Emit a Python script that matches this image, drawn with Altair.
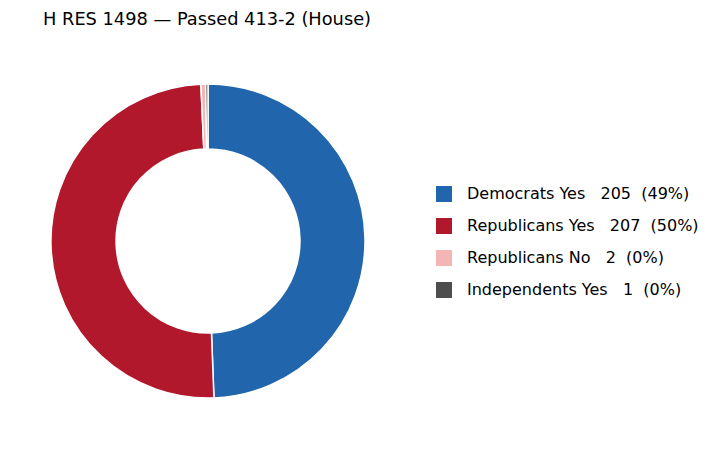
import pandas as pd
import altair as alt

# vote breakdown
groups = ["Democrats Yes", "Republicans Yes", "Republicans No", "Independents Yes"]
counts = [205, 207, 2, 1]
colors = ["#2166ac", "#b2182b", "#f4b6b4", "#4d4d4d"]

total = sum(counts)
labels = []
for g, n in zip(groups, counts):
    pct = round(100 * n / total)
    labels.append(f"{g}\u00a0\u00a0\u00a0{n}\u00a0\u00a0({pct}%)")

df = pd.DataFrame({
    "group": groups,
    "count": counts,
    "label": labels,
    "idx": list(range(len(groups)))})

# donut
donut = alt.Chart(df).mark_arc(
    innerRadius=92,
    outerRadius=157,
    stroke="white",
    strokeWidth=1.5).encode(
    theta=alt.Theta("count:Q", stack=True),
    order=alt.Order("idx:Q"),
    x=alt.value(200),
    y=alt.value(208),
    color=alt.Color(
        "label:N",
        scale=alt.Scale(domain=labels, range=colors),
        legend=alt.Legend(
            title=None,
            orient="none",
            legendX=428,
            legendY=153,
            symbolType="square",
            symbolSize=256,
            symbolStrokeWidth=0,
            symbolOpacity=1,
            labelFontSize=16,
            labelFont="DejaVu Sans",
            labelColor="black",
            labelOffset=15,
            rowPadding=16,
            labelLimit=400)),
    tooltip=["group:N", "count:Q"])

chart = donut.properties(
    width=696,
    height=400,
    padding={"left": 0, "top": 3, "right": 0, "bottom": 0},
    title=alt.TitleParams(
        text="H RES 1498 \u2014 Passed 413-2 (House)",
        anchor="start",
        dx=35,
        fontSize=17.8,
        fontWeight="normal",
        font="DejaVu Sans",
        color="black"))

chart = chart.configure_view(stroke=None)

chart.save("out.html", embed_options={"renderer": "svg", "actions": False})
